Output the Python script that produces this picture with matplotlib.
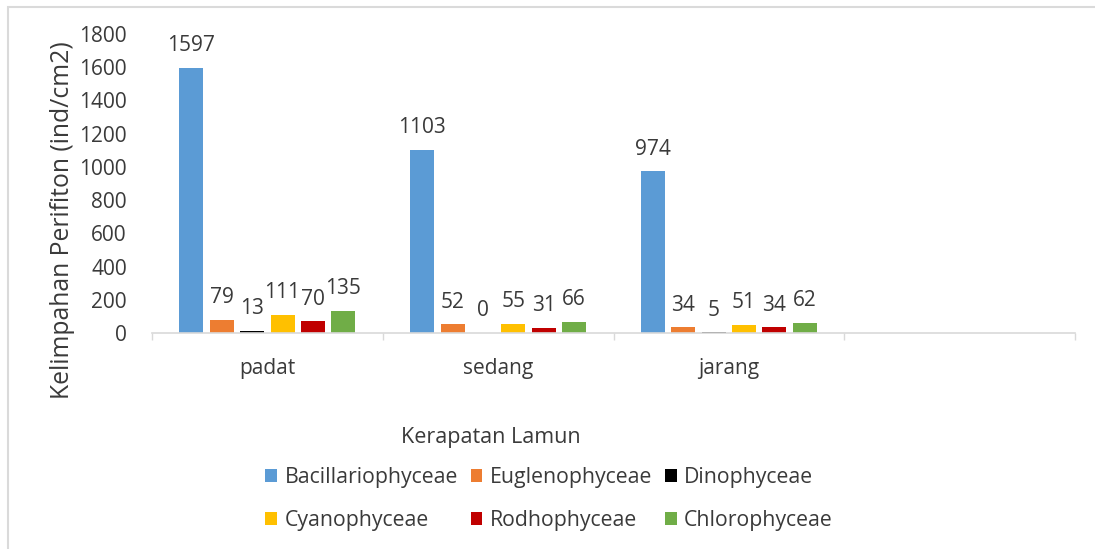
import matplotlib.pyplot as plt
import matplotlib.patches as mpatches
import numpy as np

plt.rcParams['font.family'] = ['Open Sans', 'DejaVu Sans']

# data
categories = ['padat', 'sedang', 'jarang', '']
classes = ['Bacillariophyceae', 'Euglenophyceae', 'Dinophyceae',
           'Cyanophyceae', 'Rodhophyceae', 'Chlorophyceae']
bacillariophyceae = [1597, 1103, 974]
euglenophyceae = [79, 52, 34]
dinophyceae = [13, 0, 5]
cyanophyceae = [111, 55, 51]
rodhophyceae = [70, 31, 34]
chlorophyceae = [135, 66, 62]
colors = ['#5B9BD5', '#ED7D31', '#000000', '#FFC000', '#C00000', '#70AD47']

series = [bacillariophyceae, euglenophyceae, dinophyceae,
          cyanophyceae, rodhophyceae, chlorophyceae]

fig = plt.figure(figsize=(10.95, 5.49), dpi=100)
ax = fig.add_axes([152 / 1095, 1 - 333 / 549, (1075 - 152) / 1095, (333 - 34) / 549])

# chart frame (only top/left edges visible in the reference)
frame = mpatches.Rectangle((8 / 1095, -0.2), 1.2, 1.2 - 7 / 549, transform=fig.transFigure,
                           fill=False, edgecolor='#DADADA', linewidth=1.5, zorder=0)
fig.patches.append(frame)

txt = '#3A3A3A'
x = np.arange(len(bacillariophyceae))
step = 0.1316
w = 0.104
handles = []
for i, (vals, name, c) in enumerate(zip(series, classes, colors)):
    pos = x + (i - 2.5) * step
    b = ax.bar(pos, vals, width=w, color=c, label=name)
    handles.append(b)
    for px, v in zip(pos, vals):
        ax.annotate(str(v), (px, v), xytext=(0, 12), textcoords='offset points',
                    ha='center', va='baseline', fontsize=15, color=txt)

ax.set_xlim(-0.5, len(categories) - 0.5)
ax.set_ylim(0, 1800)
ax.set_yticks(np.arange(0, 1801, 200))
ax.set_xticks(np.arange(len(categories)))
ax.set_xticklabels(categories)
ax.set_xticks(np.arange(len(categories) + 1) - 0.5, minor=True)
ax.tick_params(axis='x', which='major', length=0, pad=18, labelsize=15, labelcolor=txt)
ax.tick_params(axis='x', which='minor', length=5, color='#D9D9D9', width=1)
ax.tick_params(axis='y', length=0, pad=18, labelsize=15, labelcolor=txt)

for s in ['top', 'right', 'left']:
    ax.spines[s].set_visible(False)
ax.spines['bottom'].set_color('#D9D9D9')
ax.spines['bottom'].set_linewidth(1.2)

fig.text(63 / 1095, 1 - 220 / 549, 'Kelimpahan Perifiton (ind/cm2)', rotation=90,
         ha='center', va='center', fontsize=17.8, color=txt, fontweight='medium')
fig.text(491 / 1095, 1 - 437 / 549, 'Kerapatan Lamun', ha='center', va='center',
         fontsize=15.5, color=txt)

# row-major order in a 3-column legend
order = [0, 3, 1, 4, 2, 5]
fig.legend([handles[k] for k in order], [classes[k] for k in order], ncol=3,
           loc='center', bbox_to_anchor=(549 / 1095, 1 - 499 / 549), frameon=False,
           fontsize=15.3, handlelength=0.55, handleheight=0.55, handletextpad=0.35,
           columnspacing=0.6, labelspacing=1.05, labelcolor=txt)

fig.savefig('out.png', dpi=100)
